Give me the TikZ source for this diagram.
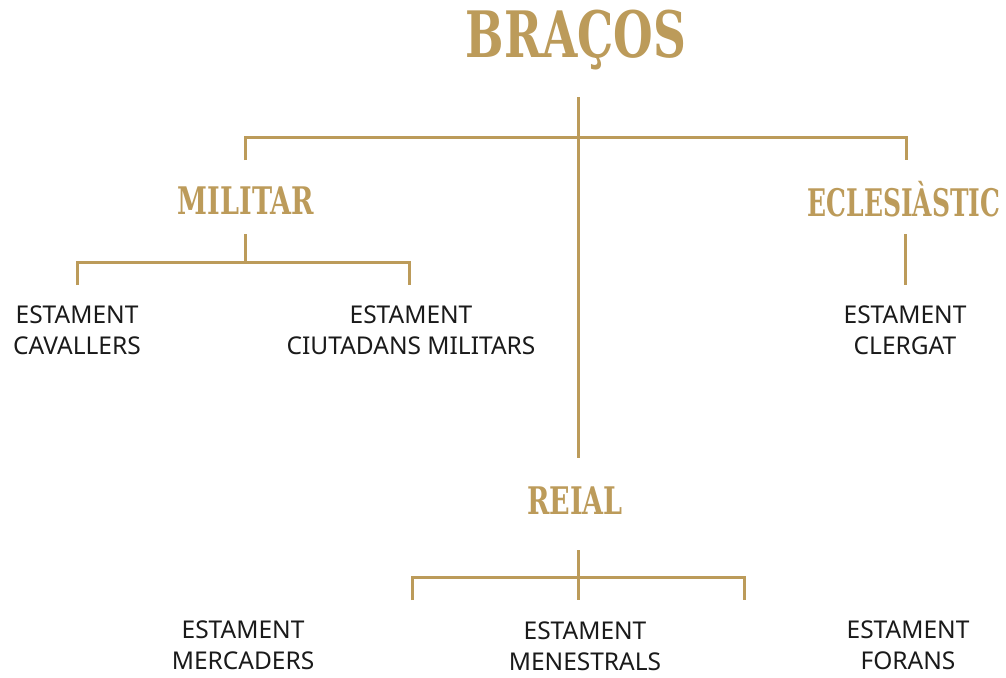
\documentclass[tikz,border=0pt]{standalone}
\usepackage{fontspec}
\setmainfont{Noto Sans}
\newfontfamily\gothfont{DejaVu Serif Condensed}[BoldFont={* Bold}]
\definecolor{gold}{HTML}{BC9B5A}
\definecolor{txt}{HTML}{1A1A1A}
\newcommand{\goth}[2][0.79]{\scalebox{#1}[1]{#2}}
\begin{document}
\begin{tikzpicture}[x=1pt,y=-1pt,
  line/.style={draw=gold,line width=3pt},
  title/.style={text=gold,font=\gothfont\bfseries\fontsize{64}{66}\selectfont,inner sep=0pt,anchor=center},
  branch/.style={text=gold,font=\gothfont\bfseries\fontsize{38}{40}\selectfont,inner sep=0pt,anchor=center},
  leaf/.style={text=txt,font=\fontsize{24.5}{31}\selectfont,align=center,inner sep=0pt,anchor=center}]
\useasboundingbox (0,0) rectangle (1006,677);
\node[title] (bracos) at (576,40) {\goth{BRAÇOS}};
\node[branch] (militar) at (246,201) {\goth{MILITAR}};
\node[branch] (ecles) at (904,199) {\goth[0.73]{ECLESIÀSTIC}};
\node[branch] (reial) at (575,501) {\goth{REIAL}};
\node[leaf] (cav) at (77,330) {ESTAMENT\\CAVALLERS};
\node[leaf] (ciu) at (411,330) {ESTAMENT\\CIUTADANS MILITARS};
\node[leaf] (cler) at (905,330) {ESTAMENT\\CLERGAT};
\node[leaf] (merc) at (243,645) {ESTAMENT\\MERCADERS};
\node[leaf] (men) at (585,646) {ESTAMENT\\MENESTRALS};
\node[leaf] (for) at (908,645) {ESTAMENT\\FORANS};
% coordinates
\coordinate (t0) at (578,97);
\coordinate (tL) at (245,137);
\coordinate (tR) at (906,137);
\coordinate (tLd) at (245,160);
\coordinate (tRd) at (906,160);
\coordinate (rtop) at (578,458);
\coordinate (m0) at (245,234);
\coordinate (m1) at (245,262);
\coordinate (mL) at (77,262);
\coordinate (mR) at (409,262);
\coordinate (mLd) at (77,285);
\coordinate (mRd) at (409,285);
\coordinate (e0) at (905,234);
\coordinate (e1) at (905,285);
\coordinate (r0) at (578,550);
\coordinate (r2) at (578,600);
\coordinate (rL) at (412,577);
\coordinate (rR) at (744,577);
\coordinate (rLd) at (412,600);
\coordinate (rRd) at (744,600);
\draw[line] (t0) -- (rtop);
\draw[line] (tLd) -- (tL) -- (tR) -- (tRd);
\draw[line] (m0) -- (m1);
\draw[line] (mLd) -- (mL) -- (mR) -- (mRd);
\draw[line] (e0) -- (e1);
\draw[line] (r0) -- (r2);
\draw[line] (rLd) -- (rL) -- (rR) -- (rRd);
\end{tikzpicture}
\end{document}
